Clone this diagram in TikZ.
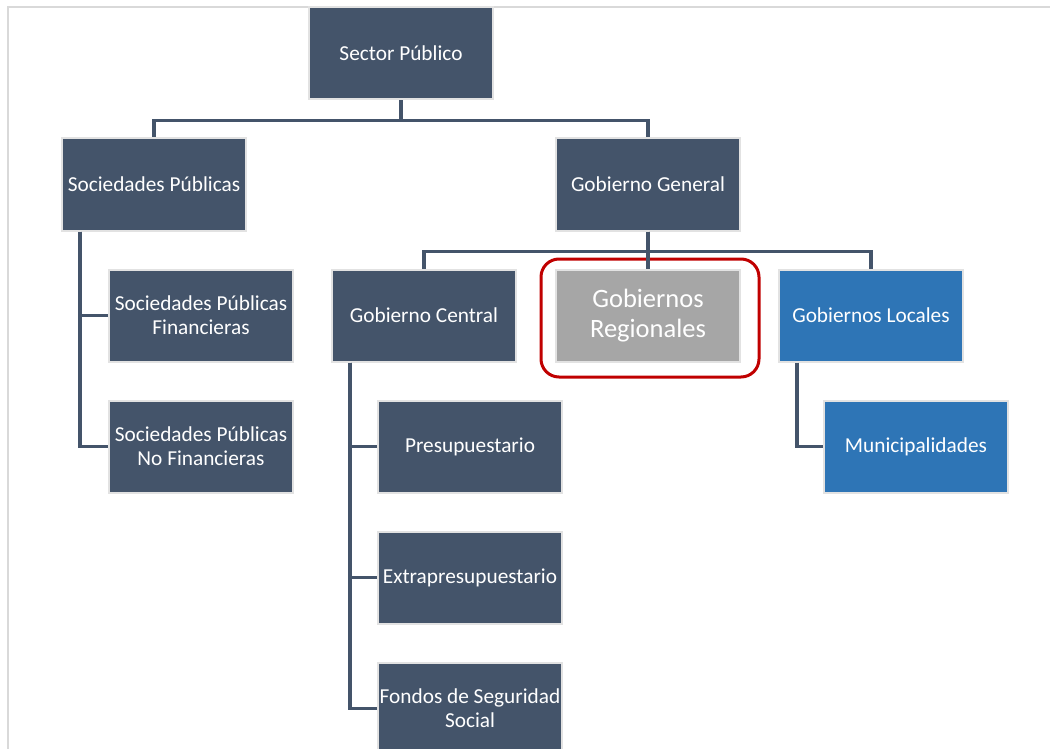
\documentclass[tikz,border=0pt]{standalone}
\usepackage{fontspec}
\setmainfont{Carlito}
\definecolor{slate}{HTML}{44546A}
\definecolor{ocean}{HTML}{2E75B6}
\definecolor{ash}{HTML}{A6A6A6}
\definecolor{crimson}{HTML}{C00000}
\definecolor{rim}{HTML}{E2E2E2}
\definecolor{framegrey}{HTML}{D9D9D9}

\begin{document}
\begin{tikzpicture}[x=1pt,y=-1pt,
  box/.style={draw=rim,line width=2pt,fill=slate,text=white,minimum width=184pt,minimum height=92pt,align=center,inner sep=2pt,font=\fontsize{21.3}{24}\selectfont},
  bluebox/.style={box,fill=ocean},
  greybox/.style={box,fill=ash,font=\fontsize{26.5}{30}\selectfont},
  conn/.style={draw=slate,line width=3.2pt},
  ring/.style={draw=crimson,line width=3pt,rounded corners=18pt,minimum width=218pt,minimum height=118pt}]
\useasboundingbox (0,0) rectangle (1050,749);
\clip (0,0) rectangle (1050,749);
\draw[framegrey,line width=2pt] (1050,7) -- (8,7) -- (8,749);

% top level
\node[box] (sp) at (401,53.5) {Sector Público};
\node[box] (soc) at (154,184.5) {Sociedades Públicas};
\node[box] (gg) at (648,184.5) {Gobierno General};

% sociedades
\node[box] (spf) at (201,315.5) {Sociedades Públicas\\Financieras};
\node[box] (spnf) at (201,446.5) {Sociedades Públicas\\No Financieras};

% gobierno general
\node[box] (gc) at (424,315.5) {Gobierno Central};
\node[greybox] (gr) at (648,315.5) {Gobiernos\\Regionales};
\node[bluebox] (gl) at (871,315.5) {Gobiernos Locales};
\node[ring] (grring) at (650,318) {};

\node[box] (pre) at (470,446.5) {Presupuestario};
\node[box] (ext) at (470,577.5) {Extrapresupuestario};
\node[box] (fss) at (470,708.5) {Fondos de Seguridad\\Social};
\node[bluebox] (mun) at (916,446.5) {Municipalidades};

% connectors
\draw[conn] (sp.south) -- ++(0,20) -| (soc.north);
\draw[conn] (sp.south) -- ++(0,20) -| (gg.north);
\draw[conn] (gg.south) -- ++(0,20) -| (gc.north);
\draw[conn] (gg.south) -- ++(0,20) -| (gl.north);
\draw[conn] (gg.south) -- (gr.north);
\draw[conn] ([xshift=-74pt]soc.south) |- (spf.west);
\draw[conn] ([xshift=-74pt]soc.south) |- (spnf.west);
\draw[conn] ([xshift=-74pt]gc.south) |- (pre.west);
\draw[conn] ([xshift=-74pt]gc.south) |- (ext.west);
\draw[conn] ([xshift=-74pt]gc.south) |- (fss.west);
\draw[conn] ([xshift=-74pt]gl.south) |- (mun.west);
\end{tikzpicture}
\end{document}
